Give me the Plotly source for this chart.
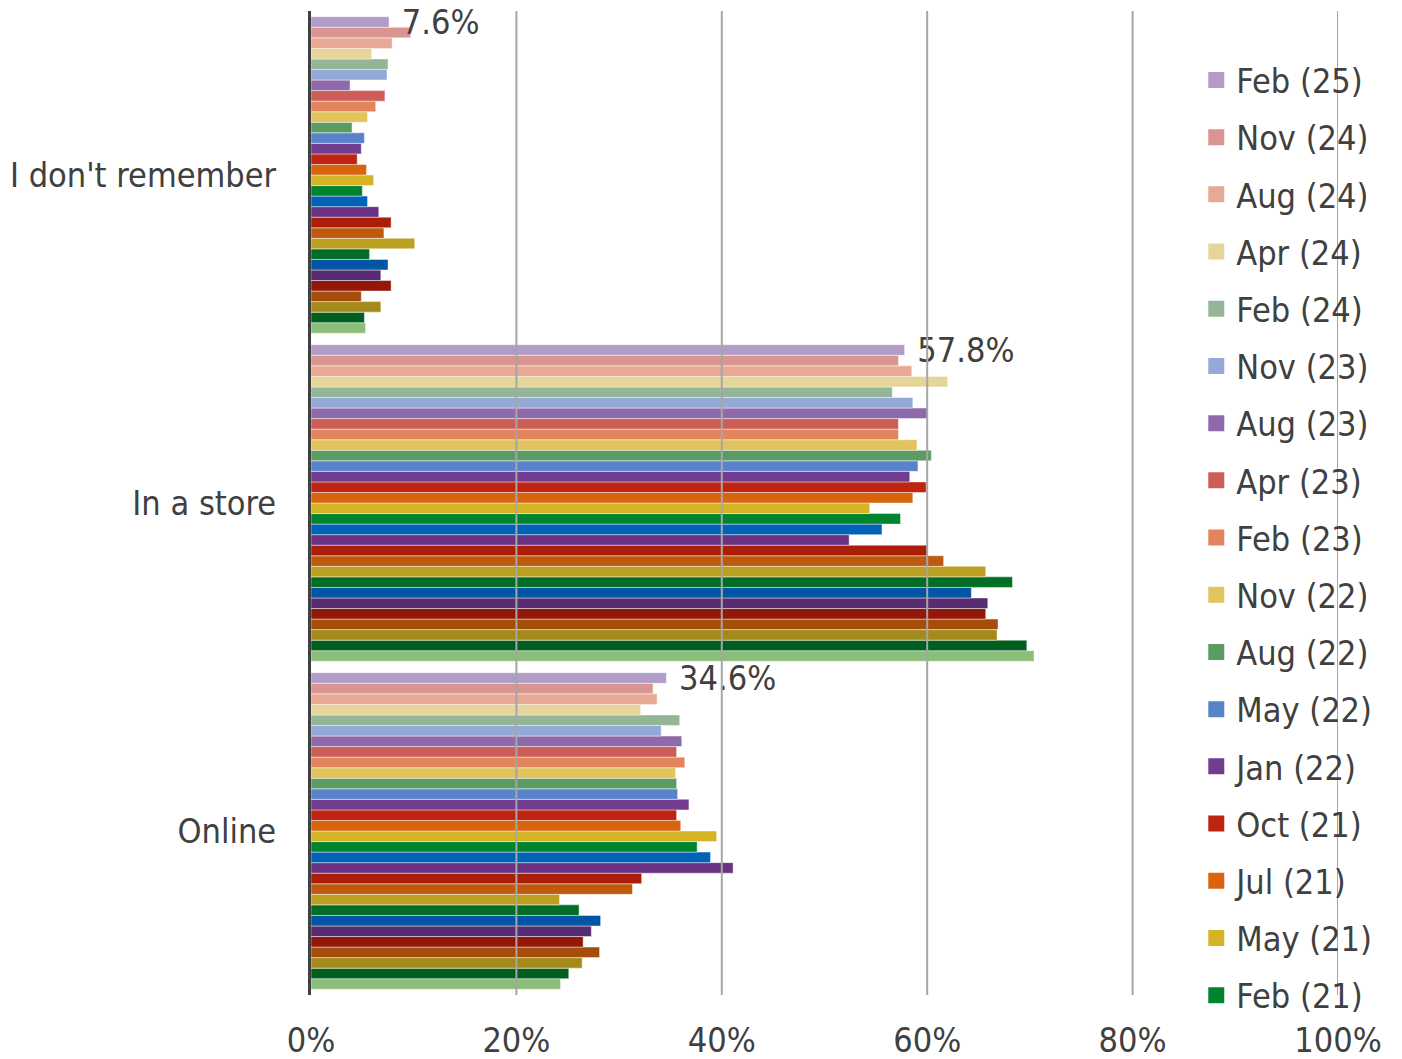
import plotly.graph_objects as go

categories = ["I don't remember", "In a store", "Online"]

series_names = [
    "Feb (25)", "Nov (24)", "Aug (24)", "Apr (24)", "Feb (24)", "Nov (23)",
    "Aug (23)", "Apr (23)", "Feb (23)", "Nov (22)", "Aug (22)", "May (22)",
    "Jan (22)", "Oct (21)", "Jul (21)", "May (21)", "Feb (21)",
    "Nov (20)", "Sep (20)", "Jul (20)", "Jun (20)", "May (20)", "Apr (20)",
    "Mar (20)", "Feb (20)", "Nov (19)", "Aug (19)", "May (19)", "Feb (19)",
    "Nov (18)",
]

colors = [
    "#B09CC6", "#D9958F", "#E8A994", "#E6D59A", "#95B696", "#95A9D8",
    "#8E6AAB", "#CD5D57", "#E2855D", "#E2C35E", "#5B9C65", "#5882C9",
    "#723C92", "#BE2412", "#D6650E", "#D4B424", "#00852E", "#0063B8",
    "#6A3283", "#AA1E08", "#BD5A0F", "#BCA021", "#006F25", "#0056A4",
    "#582C72", "#931807", "#A54D0B", "#A48A1B", "#005F1E", "#8BBE78",
]

dont_remember = [7.6, 9.7, 7.9, 5.9, 7.5, 7.4, 3.8, 7.2, 6.3, 5.5, 4.0, 5.2,
                 4.9, 4.5, 5.4, 6.1, 5.0, 5.5, 6.6, 7.8, 7.1, 10.1, 5.7, 7.5,
                 6.8, 7.8, 4.9, 6.8, 5.2, 5.3]
in_store = [57.8, 57.2, 58.5, 62.0, 56.6, 58.6, 60.0, 57.2, 57.2, 59.0, 60.4,
            59.1, 58.3, 59.9, 58.6, 54.4, 57.4, 55.6, 52.4, 60.0, 61.6, 65.7,
            68.3, 64.3, 65.9, 65.7, 66.9, 66.8, 69.7, 70.4]
online = [34.6, 33.3, 33.7, 32.1, 35.9, 34.1, 36.1, 35.6, 36.4, 35.5, 35.6,
          35.7, 36.8, 35.6, 36.0, 39.5, 37.6, 38.9, 41.1, 32.2, 31.3, 24.2,
          26.1, 28.2, 27.3, 26.5, 28.1, 26.4, 25.1, 24.3]

tick_vals = [0, 20, 40, 60, 80, 100]
tick_text = ["0%", "20%", "40%", "60%", "80%", "100%"]
legend_visible_count = 17
labelled_series = 0

FONT = "DejaVu Sans Condensed, DejaVu Sans, sans-serif"
TXT = "#404040"
FS = 34

fig = go.Figure()
n = len(series_names)

# legend entries (square swatches) linked to the bar traces via legendgroup
for i in range(legend_visible_count):
    fig.add_trace(go.Scatter(
        x=[None], y=[None], mode="markers",
        name=series_names[i], legendgroup=series_names[i], legendrank=i + 1,
        marker=dict(symbol="square", size=19, color=colors[i]),
        showlegend=True, hoverinfo="skip",
    ))

for i in reversed(range(n)):
    vals = [dont_remember[i], in_store[i], online[i]]
    fig.add_trace(go.Bar(
        y=categories,
        x=vals,
        orientation="h",
        name=series_names[i],
        legendgroup=series_names[i],
        showlegend=False,
        marker=dict(color=colors[i], line=dict(color="rgba(255,255,255,0.55)", width=0.8)),
        text=[f" {v:.1f}%" for v in vals] if i == labelled_series else None,
        textposition="outside" if i == labelled_series else "none",
        textfont=dict(family=FONT, size=FS, color=TXT),
        constraintext="none",
        cliponaxis=False,
        hoverinfo="x+name",
    ))

for v in tick_vals[1:]:
    fig.add_shape(type="line", x0=v, x1=v, y0=0, y1=1, xref="x", yref="paper",
                  layer="above", line=dict(color="#A6A6A6", width=2))

fig.update_layout(
    width=1402, height=1059,
    margin=dict(l=311, r=64, t=11, b=64, autoexpand=False),
    paper_bgcolor="white", plot_bgcolor="white",
    barmode="group", bargap=0.035, bargroupgap=0.0,
    font=dict(family=FONT, size=FS, color=TXT),
    showlegend=True,
    legend=dict(
        x=0.862, xanchor="left", y=0.959, yanchor="top",
        traceorder="grouped", tracegroupgap=10,
        bgcolor="rgba(0,0,0,0)",
        font=dict(family=FONT, size=FS, color=TXT),
    ),
    xaxis=dict(
        range=[0, 100], tickvals=tick_vals, ticktext=tick_text,
        showgrid=False, zeroline=False, showline=False, automargin=False,
        ticks="", ticklabelstandoff=22,
        tickfont=dict(family=FONT, size=FS, color=TXT),
    ),
    yaxis=dict(
        type="category", categoryorder="array",
        categoryarray=list(reversed(categories)),
        showgrid=False, zeroline=False, automargin=False,
        showline=True, linecolor="#404040", linewidth=3,
        ticks="", ticklabelstandoff=25,
        tickfont=dict(family=FONT, size=FS, color=TXT),
    ),
)

fig.write_html("out.html", config={"displayModeBar": False},
               post_script="document.body.style.margin='0';")
